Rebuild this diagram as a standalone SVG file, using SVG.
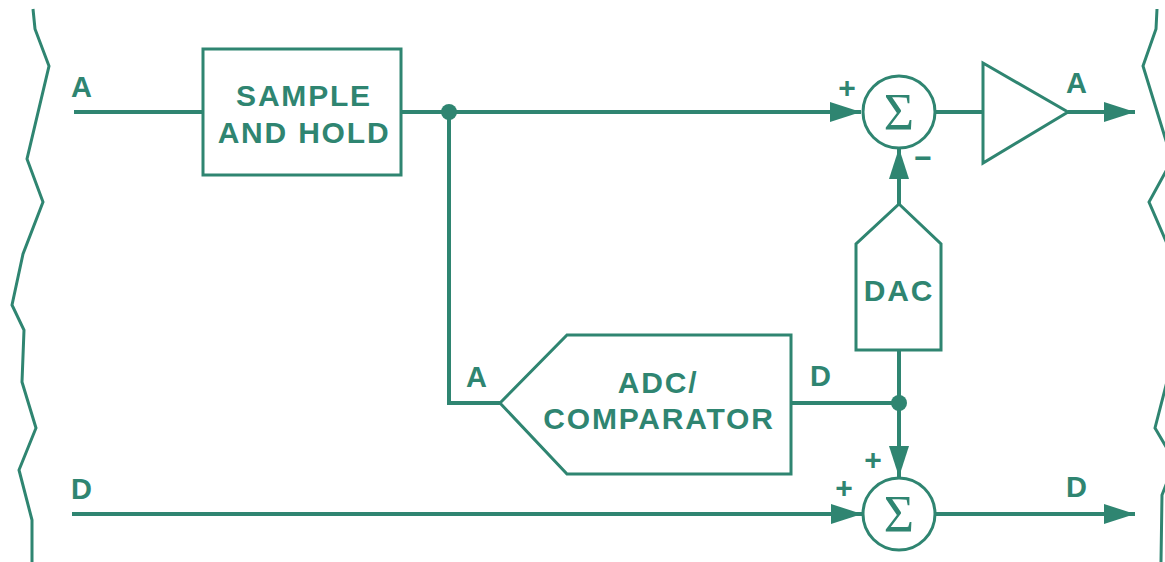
<svg xmlns="http://www.w3.org/2000/svg" width="1165" height="562" viewBox="0 0 1165 562">
<style>
.ln{fill:none;stroke:#2f8571;stroke-width:4}
.box{fill:none;stroke:#2f8571;stroke-width:3}
.edge{fill:none;stroke:#2f8571;stroke-width:3;stroke-linejoin:miter}
.t{font-family:"Liberation Sans",Arial,Helvetica,sans-serif;font-weight:bold;font-size:30px;fill:#2f8571;letter-spacing:1.8px}
.lbl{font-family:"Liberation Sans",Arial,Helvetica,sans-serif;font-weight:bold;font-size:29px;fill:#2f8571}
.sg{font-family:"Liberation Sans",Arial,Helvetica,sans-serif;font-weight:bold;font-size:30px;fill:#2f8571;text-anchor:middle}
.sig{font-family:"Liberation Serif","Times New Roman",serif;font-size:52px;fill:#2f8571;text-anchor:middle}
.dot{fill:#2f8571}
</style>
<defs>
<marker id="arr" markerUnits="userSpaceOnUse" markerWidth="32" markerHeight="22" refX="31" refY="11" orient="auto" viewBox="0 0 32 22">
<path d="M0,1 L31,11 L0,21 Z" fill="#2f8571"/>
</marker>
</defs>
<rect width="1165" height="562" fill="#ffffff"/>
<g id="break-left">
<polyline class="edge" points="33,9 35,29 49,66 27,159 43,202 23,254 12,305 24,330 22,382 36,428 19,470 32,520 32,562"/>
</g>
<g id="break-right">
<polyline class="edge" points="1157,9 1156,29 1143,66 1172,160 1149,202 1175,262 1170,330 1172,362 1155,428 1175,462 1162,495 1161,562"/>
</g>
<g id="connectors">
<path class="ln" d="M74,112 H203"/>
<path class="ln" d="M401,112 H861" marker-end="url(#arr)"/>
<path class="ln" d="M449,112 V403 H500"/>
<path class="ln" d="M935,112 H983"/>
<path class="ln" d="M1068,112 H1135" marker-end="url(#arr)"/>
<path class="ln" d="M899,204 V148" marker-end="url(#arr)"/>
<path class="ln" d="M791,403 H899"/>
<path class="ln" d="M899,350 V477" marker-end="url(#arr)"/>
<path class="ln" d="M72,514 H862" marker-end="url(#arr)"/>
<path class="ln" d="M935,514 H1135" marker-end="url(#arr)"/>
<circle class="dot" cx="449" cy="112" r="8"/>
<circle class="dot" cx="899" cy="403" r="8"/>
</g>
<g id="sample-hold">
<rect class="box" x="203" y="49" width="198" height="126"/>
<text class="t" x="304" y="106" text-anchor="middle">SAMPLE</text>
<text class="t" x="304" y="143" text-anchor="middle">AND HOLD</text>
</g>
<g id="sum-top">
<circle class="box" cx="899" cy="112" r="36"/>
<text class="sig" x="899" y="130">Σ</text>
</g>
<g id="amp">
<polygon class="box" points="983,63 1068,112 983,163"/>
</g>
<g id="dac">
<polygon class="box" points="899,204 941,244 941,350 856,350 856,244"/>
<text class="t" x="899" y="301" text-anchor="middle">DAC</text>
</g>
<g id="adc">
<polygon class="box" points="500,403 567,335 791,335 791,474 567,474"/>
<text class="t" x="658" y="393" text-anchor="middle">ADC/</text>
<text class="t" x="659" y="429" text-anchor="middle">COMPARATOR</text>
</g>
<g id="sum-bottom">
<circle class="box" cx="899" cy="514" r="36"/>
<text class="sig" x="899" y="532">Σ</text>
</g>
<g id="labels">
<text class="lbl" x="71" y="97">A</text>
<text class="lbl" x="71" y="499">D</text>
<text class="lbl" x="1066" y="93">A</text>
<text class="lbl" x="1066" y="497">D</text>
<text class="lbl" x="466" y="387">A</text>
<text class="lbl" x="810" y="386">D</text>
<text class="sg" x="847" y="98">+</text>
<text class="sg" x="923" y="168">−</text>
<text class="sg" x="873" y="470">+</text>
<text class="sg" x="844" y="498">+</text>
</g>
</svg>
